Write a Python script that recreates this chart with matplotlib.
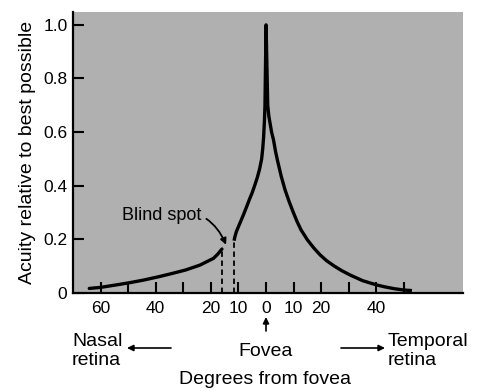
"""
Visual acuity vs. eccentricity from the fovea (nasal / temporal retina)
"""
import numpy as np
import matplotlib
matplotlib.use('Agg')
import matplotlib.pyplot as plt

plt.rcParams['font.family'] = ['Liberation Sans', 'DejaVu Sans']

# Degrees from fovea (nasal side negative), acuity relative to best possible
nasal_deg = [-64.1, -60.0, -55.0, -49.7, -44.5, -38.8, -34.0, -29.1, -24.0, -19.1, -17.5, -16.0]
nasal_acuity = [0.017, 0.021, 0.029, 0.038, 0.048, 0.061, 0.073, 0.086, 0.104, 0.129, 0.145, 0.164]

central_deg = [-11.6, -11.3, -10.8, -10.0, -9.0, -8.0, -7.0, -6.0, -5.0, -4.0, -3.2, -2.4,
               -1.6, -1.2, -0.9, -0.6, -0.4, 0.0,
               0.6, 1.0, 1.5, 2.0, 2.7, 3.4, 4.1, 5.5, 6.9, 8.4, 9.9, 11.3, 12.7, 15.0,
               17.3, 19.6, 22.0, 24.8, 27.5, 30.5, 35.0, 40.1, 43.0, 46.5, 50.0, 52.9]
central_acuity = [0.195, 0.21, 0.228, 0.248, 0.272, 0.297, 0.323, 0.35, 0.375, 0.405, 0.43, 0.46,
                  0.50, 0.54, 0.58, 0.64, 0.70, 1.0,
                  0.70, 0.66, 0.63, 0.60, 0.571, 0.53, 0.496, 0.435, 0.384, 0.34, 0.30, 0.265, 0.235, 0.198,
                  0.168, 0.142, 0.12, 0.10, 0.083, 0.067, 0.046, 0.030, 0.023, 0.016, 0.011, 0.009]

blind_spot_edges = [-16.0, -11.6]
blind_spot_tops = [0.164, 0.195]

xticks = [-60, -50, -40, -30, -20, -10, 0, 10, 20, 30, 40, 50]
xtick_labels = ['60', '', '40', '', '20', '10', '0', '10', '20', '', '40', '']
yticks = [0, 0.2, 0.4, 0.6, 0.8, 1.0]
ytick_labels = ['0', '0.2', '0.4', '0.6', '0.8', '1.0']

W, H = 478, 391
fig = plt.figure(figsize=(W / 100, H / 100), dpi=100)
ax = fig.add_axes([73 / W, (H - 293) / H, (463 - 73) / W, (293 - 12) / H])
ax.set_facecolor('#b0b0b0')

ax.plot(nasal_deg, nasal_acuity, color='black', linewidth=2.4, solid_capstyle='round')
ax.plot(central_deg, central_acuity, color='black', linewidth=2.4,
        solid_joinstyle='round', solid_capstyle='butt')
for x, top in zip(blind_spot_edges, blind_spot_tops):
    ax.plot([x, x], [0, top], color='black', linewidth=1.3, linestyle=(0, (3, 2)))

ax.set_xlim(-70.0, 71.4)
ax.set_ylim(0, 1.048)
ax.set_xticks(xticks)
ax.set_xticklabels(xtick_labels)
ax.set_yticks(yticks)
ax.set_yticklabels(ytick_labels)
ax.tick_params(axis='both', direction='in', length=8, width=1.5, labelsize=12.5, colors='black')
ax.tick_params(axis='x', pad=6)
ax.tick_params(axis='y', pad=4)
for side in ['top', 'right']:
    ax.spines[side].set_visible(False)
for side in ['left', 'bottom']:
    ax.spines[side].set_linewidth(1.6)

ax.set_ylabel('Acuity relative to best possible', fontsize=14, labelpad=5)

# Blind spot label with curved arrow
ax.annotate('Blind spot', xy=(-14.5, 0.18), xytext=(-23.5, 0.29),
            fontsize=13, ha='right', va='center',
            arrowprops=dict(arrowstyle='-|>', color='black', lw=1.3,
                            connectionstyle='arc3,rad=-0.45', mutation_scale=9,
                            shrinkA=2, shrinkB=0))


def fpx(x, y):
    return x / W, (H - y) / H


arrow = dict(arrowstyle='-|>', color='black', lw=1.2, mutation_scale=9, shrinkA=0, shrinkB=0)
ax.annotate('', xy=fpx(266, 317), xytext=fpx(266, 331), xycoords='figure fraction',
            textcoords='figure fraction', arrowprops=arrow)
ax.annotate('', xy=fpx(127, 348), xytext=fpx(171, 348), xycoords='figure fraction',
            textcoords='figure fraction', arrowprops=arrow)
ax.annotate('', xy=fpx(385, 348), xytext=fpx(341, 348), xycoords='figure fraction',
            textcoords='figure fraction', arrowprops=arrow)

fig.text(*fpx(266, 351), 'Fovea', fontsize=14, ha='center', va='center')
fig.text(*fpx(72, 351), 'Nasal\nretina', fontsize=14, ha='left', va='center', linespacing=1.15)
fig.text(*fpx(388, 351), 'Temporal\nretina', fontsize=14, ha='left', va='center', linespacing=1.15)
fig.text(*fpx(265, 380), 'Degrees from fovea', fontsize=14, ha='center', va='center')

fig.savefig('out.png', dpi=100)
